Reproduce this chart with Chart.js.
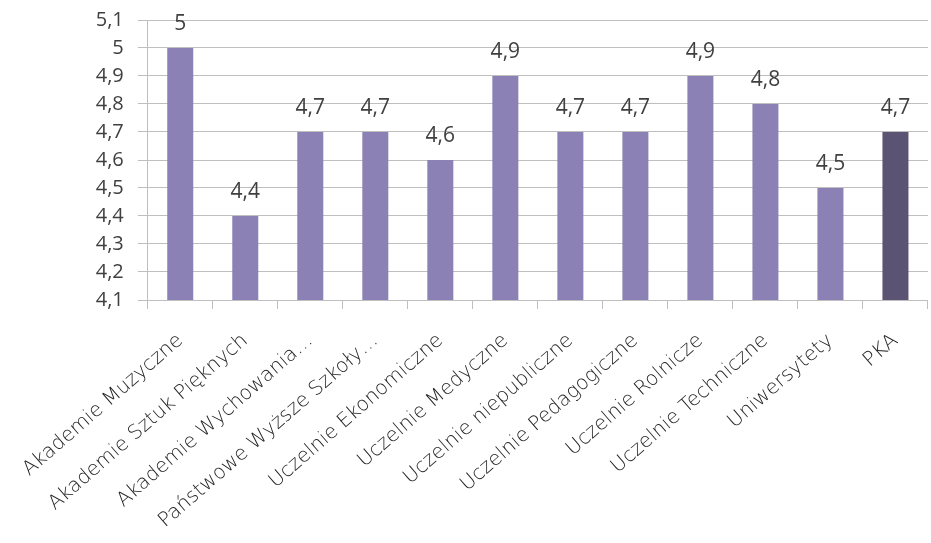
<!DOCTYPE html>
<html>
<head>
<meta charset="utf-8">
<script src="https://cdn.jsdelivr.net/npm/chart.js@4.4.1/dist/chart.umd.min.js"></script>
<style>
  html, body { margin: 0; padding: 0; background: #ffffff; }
  #wrap { width: 931px; height: 543px; }
</style>
</head>
<body>
<div id="wrap"><canvas id="chart"></canvas></div>
<script>
/* ============================= */
/*            DATA               */
/* ============================= */
const categories = [
    'Akademie Muzyczne',
    'Akademie Sztuk Pięknych',
    'Akademie Wychowania…',
    'Państwowe Wyższe Szkoły…',
    'Uczelnie Ekonomiczne',
    'Uczelnie Medyczne',
    'Uczelnie niepubliczne',
    'Uczelnie Pedagogiczne',
    'Uczelnie Rolnicze',
    'Uczelnie Techniczne',
    'Uniwersytety',
    'PKA'
];
const scores = [5, 4.4, 4.7, 4.7, 4.6, 4.9, 4.7, 4.7, 4.9, 4.8, 4.5, 4.7];
const yTicks = [4.1, 4.2, 4.3, 4.4, 4.5, 4.6, 4.7, 4.8, 4.9, 5, 5.1];

const barColor = '#8b81b4';
const pkaColor = '#5b5373';
const gridColor = '#bfbfbf';
const textColor = '#404040';
const numFont = "'Open Sans', sans-serif";
const labelFont = "'DejaVu Sans', sans-serif";

function fmt(v) {
    return String(Math.round(v * 10) / 10).replace('.', ',');
}

/* ============================= */
/*   VALUE LABELS ABOVE BARS     */
/* ============================= */
const valueLabels = {
    id: 'valueLabels',
    afterDatasetsDraw(chart) {
        const ctx = chart.ctx;
        const meta = chart.getDatasetMeta(0);
        ctx.save();
        ctx.fillStyle = textColor;
        ctx.font = '21px ' + numFont;
        ctx.textAlign = 'center';
        ctx.textBaseline = 'alphabetic';
        meta.data.forEach((bar, i) => {
            ctx.fillText(fmt(scores[i]), bar.x, bar.y - 18);
        });
        ctx.restore();
    }
};

/* ============================= */
/*          BAR CHART            */
/* ============================= */
const ctx = document.getElementById('chart').getContext('2d');
new Chart(ctx, {
    type: 'bar',
    data: {
        labels: categories,
        datasets: [{
            data: scores,
            backgroundColor: categories.map(c => c === 'PKA' ? pkaColor : barColor),
            barPercentage: 0.4,
            categoryPercentage: 1.0
        }]
    },
    options: {
        responsive: true,
        maintainAspectRatio: false,
        animation: false,
        layout: { padding: { top: 20, right: 0, left: 0, bottom: 0 } },
        plugins: {
            legend: { display: false },
            tooltip: { enabled: false }
        },
        scales: {
            x: {
                afterFit(scale) { scale.height = 243; },
                grid: {
                    display: true,
                    drawOnChartArea: false,
                    color: gridColor,
                    tickLength: 9,
                    offset: true
                },
                border: { color: gridColor },
                ticks: {
                    color: '#262626',
                    font: { family: labelFont, size: 20, weight: 200 },
                    minRotation: 41,
                    maxRotation: 41,
                    padding: 20,
                    autoSkip: false
                }
            },
            y: {
                min: 4.1,
                max: 5.1,
                afterFit(scale) {
                    scale.width = 143;
                    scale.paddingTop = 0;
                    scale.paddingBottom = 0;
                },
                afterBuildTicks(axis) {
                    axis.ticks = yTicks.map(v => ({ value: v }));
                },
                grid: { color: gridColor, tickLength: 10 },
                border: { color: gridColor },
                ticks: {
                    color: textColor,
                    font: { family: numFont, size: 20 },
                    padding: 14,
                    autoSkip: false,
                    callback: v => fmt(v)
                }
            }
        }
    },
    plugins: [valueLabels]
});
</script>
</body>
</html>
